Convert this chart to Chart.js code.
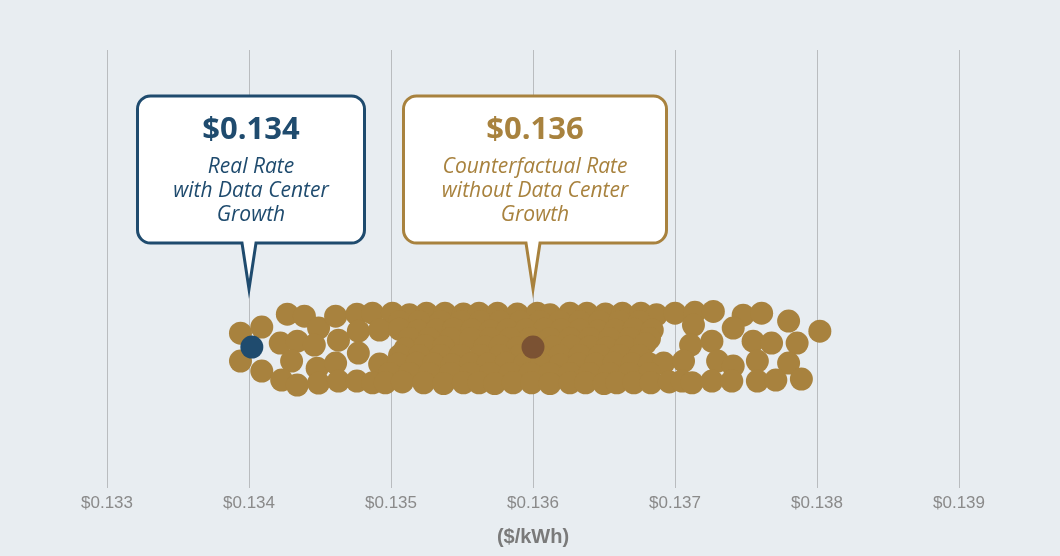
<!DOCTYPE html>
<html>
<head>
<meta charset="utf-8">
<script src="https://cdn.jsdelivr.net/npm/chart.js@4.4.1/dist/chart.umd.min.js"></script>
<style>
  html, body { margin: 0; padding: 0; background: #e8edf1; }
  canvas { display: block; }
</style>
</head>
<body>
<canvas id="swarm" width="1060" height="556"></canvas>
<script>
// x axis ticks ($/kWh)
const tickValues = [0.133, 0.134, 0.135, 0.136, 0.137, 0.138, 0.139];

// the two highlighted rates
const realRate = 0.13402;
const counterfactualRate = 0.136;

// simulated rates (x) and their swarm offsets (y, arbitrary units)
const swarmRates = [
  // left edge
  0.13394, 0.13409, 0.13394, 0.13409, 0.13427, 0.13439, 0.13422, 0.13434,
  0.13430, 0.13423, 0.13434, 0.13449, 0.13446, 0.13448, 0.13449, 0.13461,
  0.13463, 0.13461, 0.13463, 0.13476, 0.13477, 0.13477, 0.13476,
  // top row
  0.13487, 0.13501, 0.13513, 0.13525, 0.13538, 0.13551, 0.13562, 0.13575,
  0.13589, 0.13603, 0.13612, 0.13626, 0.13638, 0.13651, 0.13663, 0.13676,
  0.13687, 0.13700, 0.13714, 0.13727, 0.13748, 0.13761,
  // between top and second row
  0.13506, 0.13520, 0.13535, 0.13549, 0.13563, 0.13577, 0.13591, 0.13605,
  0.13619, 0.13633, 0.13647, 0.13661, 0.13675,
  // second row
  0.13492, 0.13506, 0.13519, 0.13532, 0.13544, 0.13557, 0.13570, 0.13582,
  0.13595, 0.13608, 0.13620, 0.13633, 0.13646, 0.13658, 0.13671, 0.13684,
  0.13713, 0.13741, 0.13780, 0.13802,
  // between second and middle row
  0.13513, 0.13527, 0.13542, 0.13556, 0.13570, 0.13584, 0.13598, 0.13612,
  0.13626, 0.13640, 0.13654, 0.13668, 0.13682,
  // middle row
  0.13510, 0.13524, 0.13537, 0.13566, 0.13577, 0.13589, 0.13614, 0.13627,
  0.13640, 0.13652, 0.13665, 0.13679, 0.13711, 0.13726, 0.13755, 0.13768,
  0.13786,
  // between middle and fourth row
  0.13506, 0.13520, 0.13535, 0.13549, 0.13563, 0.13577, 0.13591, 0.13605,
  0.13619, 0.13633, 0.13647, 0.13661, 0.13675,
  // fourth row
  0.13492, 0.13505, 0.13518, 0.13530, 0.13543, 0.13556, 0.13568, 0.13581,
  0.13594, 0.13606, 0.13619, 0.13632, 0.13644, 0.13657, 0.13670, 0.13682,
  0.13692, 0.13706, 0.13730, 0.13741, 0.13758, 0.13780,
  // between fourth and bottom row
  0.13499, 0.13513, 0.13527, 0.13542, 0.13556, 0.13570, 0.13584, 0.13598,
  0.13612, 0.13626, 0.13640, 0.13654, 0.13668, 0.13682,
  // bottom row
  0.13487, 0.13496, 0.13508, 0.13523, 0.13537, 0.13551, 0.13562, 0.13573,
  0.13586, 0.13599, 0.13612, 0.13626, 0.13637, 0.13650, 0.13659, 0.13671,
  0.13683, 0.13696, 0.13705, 0.13712, 0.13726, 0.13740, 0.13758, 0.13771,
  0.13789
];
const swarmOffsets = [
  0.82, 1.18, -0.82, -1.41, 1.94, 1.82, 0.24, 0.35,
  -0.82, -1.94, -2.24, 1.12, 0.12, -1.24, -2.12, 1.82,
  0.41, -0.94, -2.0, 1.94, 0.94, -0.35, -2.0,
  2.0, 2.0, 1.9, 2.0, 2.0, 1.95, 2.0, 2.0,
  1.95, 2.0, 1.9, 2.0, 2.0, 1.95, 2.0, 2.0,
  1.9, 2.0, 2.05, 2.1, 1.88, 2.0,
  1.5, 1.5, 1.5, 1.5, 1.5, 1.5, 1.5, 1.5,
  1.5, 1.5, 1.5, 1.5, 1.5,
  1.0, 1.05, 0.95, 1.0, 1.05, 1.0, 0.95, 1.0,
  1.0, 1.05, 1.0, 1.0, 0.95, 1.0, 1.05, 1.0,
  1.3, 1.12, 1.53, 0.94,
  0.5, 0.5, 0.5, 0.5, 0.5, 0.5, 0.5, 0.5,
  0.5, 0.5, 0.5, 0.5, 0.5,
  -0.1, 0.1, 0.0, 0.0, 0.05, -0.05, 0.0, 0.05,
  0.0, -0.05, 0.0, 0.2, 0.12, 0.35, 0.35, 0.24,
  0.24,
  -0.5, -0.5, -0.5, -0.5, -0.5, -0.5, -0.5, -0.5,
  -0.5, -0.5, -0.5, -0.5, -0.5,
  -1.0, -1.0, -0.95, -1.0, -1.05, -1.0, -1.0, -0.95,
  -1.0, -1.0, -1.05, -1.0, -1.0, -0.95, -1.0, -1.0,
  -0.94, -0.82, -0.82, -1.12, -0.82, -0.94,
  -1.55, -1.55, -1.55, -1.55, -1.55, -1.55, -1.55, -1.55,
  -1.55, -1.55, -1.55, -1.55, -1.55, -1.55,
  -2.1, -2.1, -2.05, -2.1, -2.15, -2.1, -2.1, -2.15,
  -2.1, -2.1, -2.15, -2.1, -2.1, -2.15, -2.1, -2.1,
  -2.1, -2.05, -2.0, -2.1, -2.0, -2.0, -2.0, -1.94,
  -1.88
];

const callouts = [
  { value: realRate, lines: ['Real Rate', 'with Data Center', 'Growth'], color: '#1f4b6e', width: 227 },
  { value: counterfactualRate, lines: ['Counterfactual Rate', 'without Data Center', 'Growth'], color: '#a8823e', width: 263 }
];

const calloutPlugin = {
  id: 'callouts',
  afterDraw(chart) {
    const ctx = chart.ctx;
    const xs = chart.scales.x;
    const top = 96, bottom = 243, tipY = 289, r = 13, half = 7;
    callouts.forEach(c => {
      const shown = Math.round(c.value * 1000) / 1000;
      const tip = xs.getPixelForValue(shown);
      const cx = tip + 2;
      const left = cx - c.width / 2, right = cx + c.width / 2;
      ctx.save();
      ctx.beginPath();
      ctx.moveTo(left + r, top);
      ctx.lineTo(right - r, top);
      ctx.arcTo(right, top, right, top + r, r);
      ctx.lineTo(right, bottom - r);
      ctx.arcTo(right, bottom, right - r, bottom, r);
      ctx.lineTo(tip + half, bottom);
      ctx.lineTo(tip, tipY);
      ctx.lineTo(tip - half, bottom);
      ctx.lineTo(left + r, bottom);
      ctx.arcTo(left, bottom, left, bottom - r, r);
      ctx.lineTo(left, top + r);
      ctx.arcTo(left, top, left + r, top, r);
      ctx.closePath();
      ctx.fillStyle = '#ffffff';
      ctx.fill();
      ctx.lineWidth = 3;
      ctx.strokeStyle = c.color;
      ctx.stroke();

      ctx.fillStyle = c.color;
      ctx.textAlign = 'center';
      ctx.textBaseline = 'middle';
      ctx.font = 'bold 31px "Open Sans"';
      ctx.fillText('$' + shown.toFixed(3), cx, 130);
      ctx.font = 'italic 21px "Open Sans"';
      c.lines.forEach((line, i) => ctx.fillText(line, cx, 167 + i * 24));
      ctx.restore();
    });
  }
};

new Chart(document.getElementById('swarm'), {
  type: 'scatter',
  data: {
    datasets: [{
      label: 'Highlighted rates',
      data: [{ x: realRate, y: 0 }, { x: counterfactualRate, y: 0 }],
      backgroundColor: ['#1f4b6e', '#7b5233'],
      borderWidth: 0,
      pointRadius: 11.5,
      order: 0
    }, {
      label: 'Simulated rates',
      data: swarmRates.map((x, i) => ({ x: x, y: swarmOffsets[i] })),
      backgroundColor: '#a8823e',
      borderWidth: 0,
      pointRadius: 11.5,
      order: 1
    }]
  },
  options: {
    responsive: false,
    animation: false,
    layout: { padding: { left: 107, right: 101, top: 50, bottom: 3 } },
    plugins: {
      legend: { display: false },
      tooltip: { enabled: false }
    },
    scales: {
      x: {
        type: 'linear',
        min: 0.133,
        max: 0.139,
        afterBuildTicks: scale => { scale.ticks = tickValues.map(v => ({ value: v })); },
        afterFit: scale => { scale.height = 65; },
        grid: { color: '#b9bcbf', lineWidth: 1, drawTicks: false },
        border: { display: false },
        ticks: {
          padding: 5,
          color: '#8a8a8a',
          font: { family: '"Liberation Sans", sans-serif', size: 17 },
          callback: v => '$' + v.toFixed(3)
        },
        title: {
          display: true,
          text: '($/kWh)',
          color: '#7a7a7a',
          font: { family: '"Liberation Sans", sans-serif', size: 20, weight: 'bold' },
          padding: { top: 8, bottom: 4 }
        }
      },
      y: { display: false, min: -8.3, max: 17.5 }
    }
  },
  plugins: [calloutPlugin]
});
</script>
</body>
</html>
